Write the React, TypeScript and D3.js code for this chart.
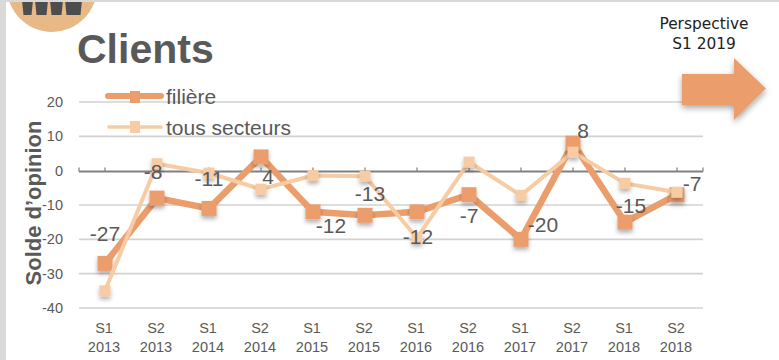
import React from "react";
import * as d3 from "d3";

const periods = ["S1", "S2", "S1", "S2", "S1", "S2", "S1", "S2", "S1", "S2", "S1", "S2"];
const years = ["2013", "2013", "2014", "2014", "2015", "2015", "2016", "2016", "2017", "2017", "2018", "2018"];
const filiere = [-27, -8, -11, 4, -12, -13, -12, -7, -20, 8, -15, -7];
const tousSecteurs = [-35, 2, -0.7, -5.4, -1.4, -1.6, -19.6, 2.5, -7.2, 5.4, -3.7, -6.3];
const yTicks = [20, 10, 0, -10, -20, -30, -40];
// Label centre relative to its point, so labels clear the lines.
const labelOffsets: [number, number][] = [
  [0, -30], [-4, -27], [0, -30], [7, 20], [18, 14], [5, -22], [1, 25], [0, 21], [22, -15], [10, -13], [6, -17], [15, -11],
];

const WIDTH = 779;
const HEIGHT = 360;
const ORANGE = "#eb9e6c";
const PEACH = "#f7cba3";
const TEXT = "#595959";
const FONT = "'Liberation Sans', Arial, sans-serif";

export default function App() {
  const x = d3.scaleBand<number>().domain(d3.range(12)).range([79, 703]);
  const cx = (i: number) => (x(i) ?? 0) + x.bandwidth() / 2;
  const y = d3.scaleLinear().domain([-40, 20]).range([308, 102]);
  const line = d3.line<number>().x((_, i) => cx(i)).y((d) => y(d));
  const axisY = y(0) + 0.8;

  return (
    <svg
      width={WIDTH}
      height={HEIGHT}
      viewBox={`0 0 ${WIDTH} ${HEIGHT}`}
      style={{ position: "fixed", left: 0, top: 0, display: "block", background: "#fff" }}
    >
      <defs>
        <filter id="markShadow" x="-60%" y="-60%" width="220%" height="240%">
          <feDropShadow dx="0" dy="3" stdDeviation="2" floodColor="#000" floodOpacity="0.3" />
        </filter>
        <filter id="arrowShadow" x="-20%" y="-20%" width="140%" height="150%">
          <feDropShadow dx="0" dy="3" stdDeviation="3" floodColor="#000" floodOpacity="0.35" />
        </filter>
      </defs>

      {/* badge with its pictogram */}
      <circle cx={52} cy={-13} r={45} fill="#e8b887" />
      {[
        [22, 11],
        [35, 13],
        [50, 13],
        [65, 17],
      ].map(([bx, w], i) => (
        <path key={i} d={`M${bx} 0 H${bx + w} L${bx + w - 1.5} 15 H${bx + 1.5} Z`} fill="#4d4d4d" />
      ))}

      {/* slide edges */}
      <rect x={0} y={0} width={WIDTH} height={2} fill="#d9d9d9" />
      <rect x={0} y={0} width={6} height={HEIGHT} fill="#d9d9d9" />

      <text x={77} y={63} fontFamily={FONT} fontSize={41} fontWeight={700} fill={TEXT}>Clients</text>

      {/* gridlines */}
      {yTicks.filter((t) => t !== 0).map((t) => (
        <line key={t} x1={79} x2={703} y1={y(t)} y2={y(t)} stroke="#d2d2d2" strokeWidth={1.6} />
      ))}

      {/* zero axis with tick marks */}
      <line x1={79} x2={703} y1={axisY} y2={axisY} stroke="#808080" strokeWidth={2} />
      {[79, ...d3.range(12).map(cx), 703].map((tx) => (
        <line key={tx} x1={tx} x2={tx} y1={axisY - 4} y2={axisY} stroke="#808080" strokeWidth={1.2} />
      ))}

      {/* y axis */}
      {yTicks.map((t) => (
        <text key={t} x={63} y={y(t) + 5} textAnchor="end" fontFamily={FONT} fontSize={14.5} fill={TEXT}>{t}</text>
      ))}
      <text
        transform="translate(41,203) rotate(-90)"
        textAnchor="middle"
        fontFamily={FONT}
        fontSize={22}
        fontWeight={700}
        fill={TEXT}
      >
        Solde d’opinion
      </text>

      {/* x axis */}
      {periods.map((p, i) => (
        <text key={i} textAnchor="middle" fontFamily={FONT} fontSize={14.5} fill={TEXT}>
          <tspan x={cx(i) - 1} y={333}>{p}</tspan>
          <tspan x={cx(i) - 1} y={352}>{years[i]}</tspan>
        </text>
      ))}

      {/* filière series */}
      <path d={line(filiere) ?? ""} fill="none" stroke={ORANGE} strokeWidth={6.5} />
      {filiere.map((v, i) => (
        <rect key={i} x={cx(i) - 7.5} y={y(v) - 7.5} width={15} height={15} fill={ORANGE} filter="url(#markShadow)" />
      ))}

      {/* tous secteurs series */}
      <path d={line(tousSecteurs) ?? ""} fill="none" stroke={PEACH} strokeWidth={4} />
      {tousSecteurs.map((v, i) => (
        <rect key={i} x={cx(i) - 5.5} y={y(v) - 5.5} width={11} height={11} fill={PEACH} filter="url(#markShadow)" />
      ))}

      {/* value labels of the filière series */}
      {filiere.map((v, i) => (
        <text
          key={i}
          x={cx(i) + labelOffsets[i][0]}
          y={y(v) + labelOffsets[i][1] + 7.5}
          textAnchor="middle"
          fontFamily={FONT}
          fontSize={21}
          fill={TEXT}
        >
          {v}
        </text>
      ))}

      {/* legend */}
      <line x1={108} x2={161} y1={96} y2={96} stroke={ORANGE} strokeWidth={6} strokeLinecap="round" />
      <rect x={130} y={91} width={10} height={12} fill={ORANGE} />
      <text x={166} y={103.5} fontFamily={FONT} fontSize={21} fill={TEXT}>filière</text>
      <line x1={109} x2={161} y1={127} y2={127} stroke={PEACH} strokeWidth={3.5} strokeLinecap="round" />
      <rect x={130} y={121} width={10} height={12} fill={PEACH} />
      <text x={166} y={135} fontFamily={FONT} fontSize={21} fill={TEXT}>tous secteurs</text>

      {/* outlook arrow */}
      <text textAnchor="middle" fontFamily="'DejaVu Sans', Verdana, sans-serif" fontSize={15.4} fill="#222">
        <tspan x={704} y={29}>Perspective</tspan>
        <tspan x={704} y={49}>S1 2019</tspan>
      </text>
      <path
        d="M682 74 H734 V58 L766 88.5 L734 120 V105 H682 Z"
        fill={ORANGE}
        filter="url(#arrowShadow)"
      />
    </svg>
  );
}
